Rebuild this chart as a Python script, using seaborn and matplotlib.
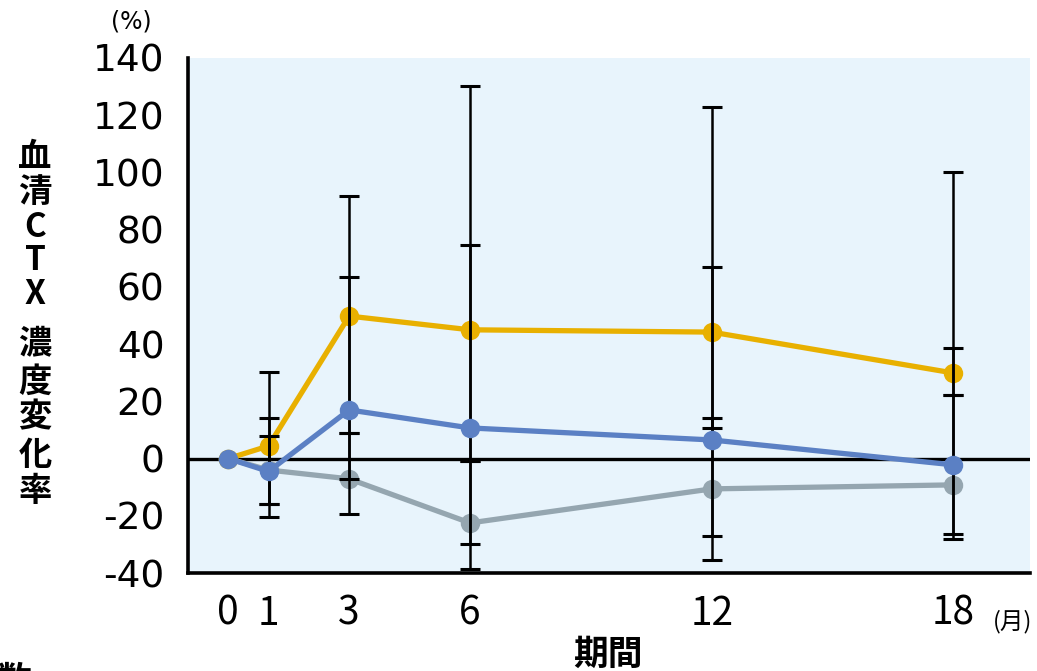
import numpy as np
import pandas as pd
import matplotlib
matplotlib.use("Agg")
import matplotlib.pyplot as plt
import seaborn as sns

# ---- data ----
months = [0, 1, 3, 6, 12, 18]
x_ticks = [0, 1, 3, 6, 12, 18]
y_ticks = [-40, -20, 0, 20, 40, 60, 80, 100, 120, 140]

yellow_mean = [0, 4.4, 49.8, 45.0, 44.2, 29.9]
yellow_lo = [None, -20.4, 8.8, -0.8, 10.6, 22.3]
yellow_hi = [None, 30.2, 91.7, 130.3, 122.9, 100.2]

blue_mean = [0, -4.5, 17.0, 10.7, 6.5, -2.2]
blue_lo = [None, -15.9, -7.2, -29.9, -27.0, -28.0]
blue_hi = [None, 14.1, 63.4, 74.5, 67.0, 38.5]

gray_mean = [0, -4.0, -7.1, -22.5, -10.6, -9.2]
gray_lo = [None, -15.9, -19.5, -38.7, -35.4, -26.5]
gray_hi = [None, 8.0, 8.8, -0.8, 14.1, 22.3]

ylabel_chars = ["血", "清", "C", "T", "X", "濃", "度", "変", "化", "率"]

# ---- style ----
sns.set_style("white")
plt.rcParams["font.family"] = ["DejaVu Sans", "Noto Sans CJK JP"]
plt.rcParams["axes.unicode_minus"] = False
plt.rcParams["text.color"] = "black"
plt.rcParams["xtick.labelcolor"] = "black"
plt.rcParams["ytick.labelcolor"] = "black"

W, H = 1037, 671
fig = plt.figure(figsize=(W / 100, H / 100), dpi=100)
ax = fig.add_axes([188 / W, 1 - 573 / H, (1030 - 188) / W, (573 - 58) / H])
ax.set_facecolor("#E8F4FC")

YEL, BLU, GRY = "#E8B000", "#5B80C4", "#95A6B0"
CJK = ["Noto Sans CJK JP", "DejaVu Sans"]

def series_df(mean):
    return pd.DataFrame({"month": months, "value": mean})

def errbars(mean, lo, hi):
    idx = [i for i, v in enumerate(lo) if v is not None]
    xs = np.array([months[i] for i in idx], float)
    ys = np.array([mean[i] for i in idx], float)
    l = np.array([lo[i] for i in idx], float)
    h = np.array([hi[i] for i in idx], float)
    ax.errorbar(xs, ys, yerr=[ys - l, h - ys], fmt="none", ecolor="black",
                elinewidth=1.8, capsize=7, capthick=2.2, zorder=5)

# zero line
ax.axhline(0, color="black", lw=2.4, zorder=2)

lw, ms = 3.8, 14
sns.lineplot(data=series_df(gray_mean), x="month", y="value", ax=ax, color=GRY,
             lw=lw, marker="o", markersize=ms, markeredgewidth=0, zorder=3)
sns.lineplot(data=series_df(yellow_mean), x="month", y="value", ax=ax, color=YEL,
             lw=lw, marker="o", markersize=ms, markeredgewidth=0, zorder=4)

errbars(yellow_mean, yellow_lo, yellow_hi)
errbars(blue_mean, blue_lo, blue_hi)
errbars(gray_mean, gray_lo, gray_hi)

sns.lineplot(data=series_df(blue_mean), x="month", y="value", ax=ax, color=BLU,
             lw=lw, marker="o", markersize=ms, markeredgewidth=0, zorder=6)

ax.set_xlim(-1, 19.9)
ax.set_ylim(-40, 140)
ax.set_xticks(x_ticks)
ax.set_xticklabels([str(t) for t in x_ticks], family=CJK, fontsize=28, color="black")
ax.set_yticks(y_ticks)
ax.set_yticklabels([str(t) for t in y_ticks], fontsize=27, color="black")
ax.tick_params(axis="both", direction="out", length=13, width=2.2, color="black")
ax.tick_params(axis="y", pad=4)
ax.tick_params(axis="x", pad=2)
ax.set_xlabel("")
ax.set_ylabel("")
for s in ["top", "right"]:
    ax.spines[s].set_visible(False)
for s in ["left", "bottom"]:
    ax.spines[s].set_color("black")
    ax.spines[s].set_linewidth(2.6)
ax.grid(False)

def ftext(px, py, s, **kw):
    fig.text(px / W, 1 - py / H, s, color="black", **kw)

ftext(131, 22, "(%)", ha="center", va="center", fontsize=17)
ftext(1013, 622, "(月)", ha="center", va="center", fontsize=17, family=CJK)
ftext(608, 654, "期間", ha="center", va="center", fontsize=25, fontweight="bold",
      family=CJK)
ftext(14, 680, "数", ha="center", va="center", fontsize=25, fontweight="bold",
      family=CJK)

ys_chars = [157, 192, 227, 260, 294, 345, 382, 418, 455, 492]
for ch, yy in zip(ylabel_chars, ys_chars):
    ftext(35, yy, ch, ha="center", va="center", fontsize=24, fontweight="bold",
          family=CJK)

fig.savefig("out.png", dpi=100)
